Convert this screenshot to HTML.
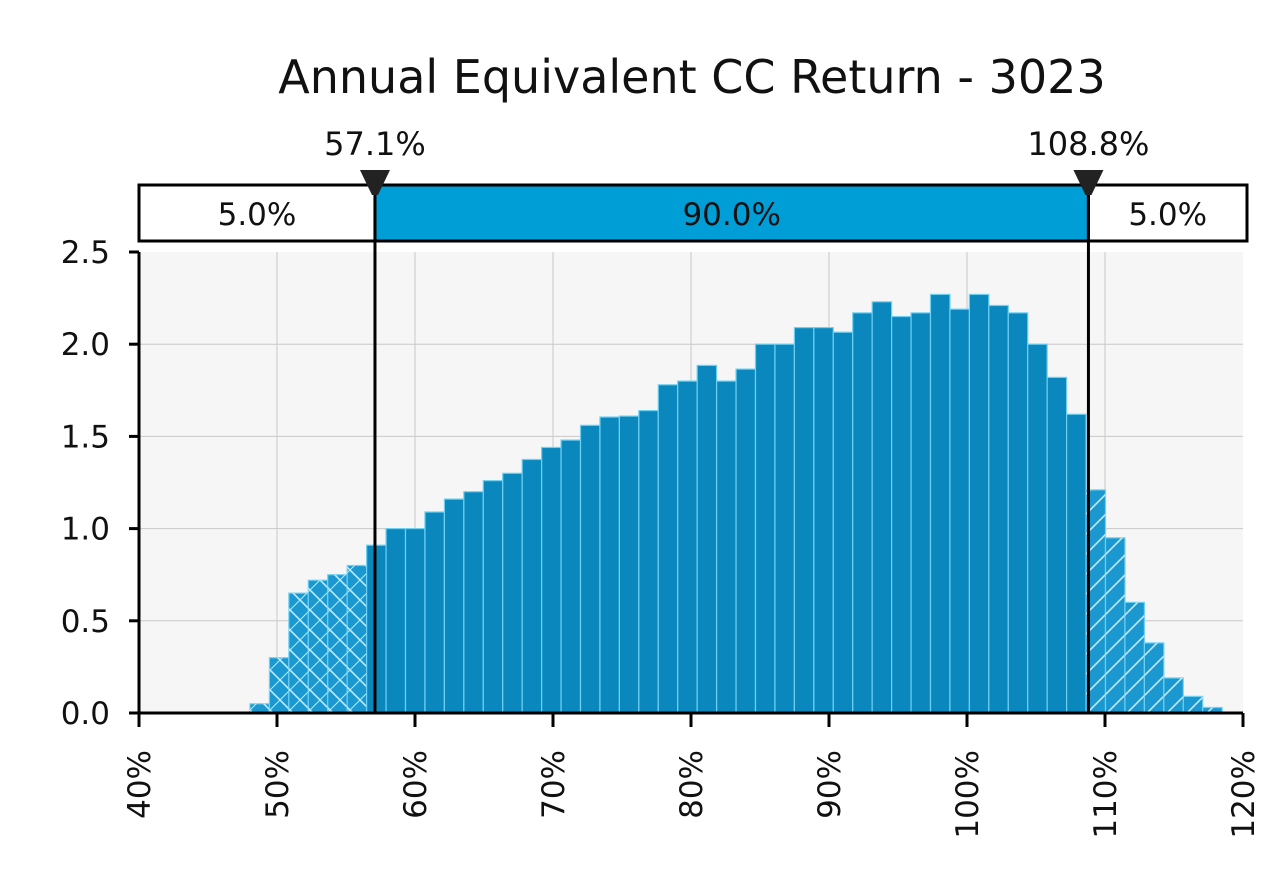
<!DOCTYPE html>
<html><head><meta charset="utf-8"><style>
html,body{margin:0;padding:0;background:#fff;}
svg{display:block;font-family:"DejaVu Sans","Liberation Sans",sans-serif;}
</style></head><body>
<svg id="chart" width="1280" height="894" viewBox="0 0 1280 894">
<defs>
<pattern id="hatchL" patternUnits="userSpaceOnUse" width="20" height="20">
<path d="M0,0 L20,20 M-5,15 L5,25 M15,-5 L25,5" stroke="#bfe9fb" stroke-width="1.6"/>
<path d="M0,20 L20,0" stroke="#bfe9fb" stroke-width="1"/>
</pattern>
<pattern id="hatchR" patternUnits="userSpaceOnUse" width="20" height="20">
<path d="M0,20 L20,0 M-5,5 L5,-5 M15,25 L25,15" stroke="#bfe9fb" stroke-width="1.6"/>
</pattern>
</defs>
<text x="692" y="93" text-anchor="middle" font-size="46" fill="#111">Annual Equivalent CC Return - 3023</text>
<rect x="139" y="252" width="1104" height="461" fill="#f6f6f6"/>
<g id="grid"></g>
<g id="bars"></g>
<g id="axes"></g>
<g id="band"></g>
</svg>
<script>
const binStart = 48.04;
const binWidth = 1.409;
const density = [0.05,0.30,0.65,0.72,0.75,0.80,0.91,1.00,1.00,1.09,1.16,1.20,1.26,1.30,1.375,1.44,1.48,1.56,1.605,1.61,1.64,1.78,1.80,1.885,1.80,1.865,2.00,2.00,2.09,2.09,2.065,2.17,2.23,2.15,2.17,2.27,2.19,2.27,2.21,2.17,2.00,1.82,1.62,1.21,0.95,0.60,0.38,0.19,0.09,0.03];
const xTicks = [40,50,60,70,80,90,100,110,120];
const xTickLabels = ["40%","50%","60%","70%","80%","90%","100%","110%","120%"];
const yTicks = [0,0.5,1.0,1.5,2.0,2.5];
const yTickLabels = ["0.0","0.5","1.0","1.5","2.0","2.5"];
const lowerCut = 57.1, upperCut = 108.8;
const bandLabels = ["5.0%","90.0%","5.0%"];
const cutLabels = ["57.1%","108.8%"];

const X0=139, X1=1243, Y0=713, Y1=252;
const xs = v => X0 + (v-40)/(120-40)*(X1-X0);
const ys = v => Y0 - v/2.5*(Y0-Y1);
const NS="http://www.w3.org/2000/svg";
function mk(tag, parent, attrs){const e=document.createElementNS(NS,tag);for(const k in attrs)e.setAttribute(k,attrs[k]);parent.appendChild(e);return e;}
const grid=document.getElementById('grid'), bars=document.getElementById('bars'), axes=document.getElementById('axes'), band=document.getElementById('band');

xTicks.forEach((t,i)=>{
  if(i>0&&i<xTicks.length-1){const l=mk('line',grid,{x1:xs(t),x2:xs(t),y1:Y1,y2:Y0,stroke:'#c8c8c8','stroke-width':1});
  
  }
});
yTicks.forEach((t,i)=>{
  if(i>0&&i<yTicks.length-1){const l=mk('line',grid,{x1:X0,x2:X1,y1:ys(t),y2:ys(t),stroke:'#c8c8c8','stroke-width':1});
  
  }
});

density.forEach((d,i)=>{
  const a=binStart+i*binWidth, b=a+binWidth;
  const x=xs(a), w=xs(b)-xs(a), y=ys(d), h=Y0-y;
  const mid=(a+b)/2;
  const tail = mid<lowerCut ? 'L' : (mid>upperCut ? 'R' : '');
  const r=mk('rect',bars,{x:x,y:y,width:w,height:h,fill:tail?'#1a98cf':'#0a88bd',stroke:'#6fd0f2','stroke-width':1.2});
  
  
  if(tail){const p=mk('rect',bars,{x:x,y:y,width:w,height:h,fill:'url(#hatch'+tail+')'});
  
  }
});

const ax=mk('path',axes,{d:`M${X0},${Y1} L${X0},${Y0} L${X1},${Y0}`,stroke:'#000','stroke-width':3,fill:'none'});


xTicks.forEach((t,i)=>{
  const tk=mk('line',axes,{x1:xs(t),x2:xs(t),y1:Y0,y2:Y0+14,stroke:'#000','stroke-width':3});
  
  
  const tx=mk('text',axes,{x:0,y:0,transform:`translate(${xs(t)+11},750) rotate(-90)`,'text-anchor':'end','font-size':31,fill:'#111'});
  tx.textContent=xTickLabels[i];
  
  
});
yTicks.forEach((t,i)=>{
  const tk=mk('line',axes,{x1:X0-10,x2:X0,y1:ys(t),y2:ys(t),stroke:'#000','stroke-width':3});
  
  
  const tx=mk('text',axes,{x:110,y:ys(t)+11,'text-anchor':'end','font-size':31,fill:'#111'});
  tx.textContent=yTickLabels[i];
  
  
});

const lx=xs(lowerCut), ux=xs(upperCut), BX0=139, BX1=1247, BY=185, BH=56;
const b1=mk('rect',band,{x:BX0,y:BY,width:lx-BX0,height:BH,fill:'#fff',stroke:'#000','stroke-width':3});


const b2=mk('rect',band,{x:lx,y:BY,width:ux-lx,height:BH,fill:'#009ed6',stroke:'#000','stroke-width':3});


const b3=mk('rect',band,{x:ux,y:BY,width:BX1-ux,height:BH,fill:'#fff',stroke:'#000','stroke-width':3});


[[ (BX0+lx)/2,0],[(lx+ux)/2,1],[(ux+BX1)/2,2]].forEach(([cx,i])=>{
  const t=mk('text',band,{x:cx,y:BY+40,'text-anchor':'middle','font-size':31,fill:'#111'});
  t.textContent=bandLabels[i];
  
  
});
[lx,ux].forEach((x,i)=>{
  const l=mk('line',band,{x1:x,x2:x,y1:BY,y2:Y0,stroke:'#000','stroke-width':3});
  
  
  const tri=mk('path',band,{d:`M${x-15},170 L${x+15},170 L${x+3},195 L${x-3},195 Z`,fill:'#222'});
  
  
  const t=mk('text',band,{x:x,y:155,'text-anchor':'middle','font-size':32,fill:'#111'});
  t.textContent=cutLabels[i];
  
  
});
</script>
</body></html>
